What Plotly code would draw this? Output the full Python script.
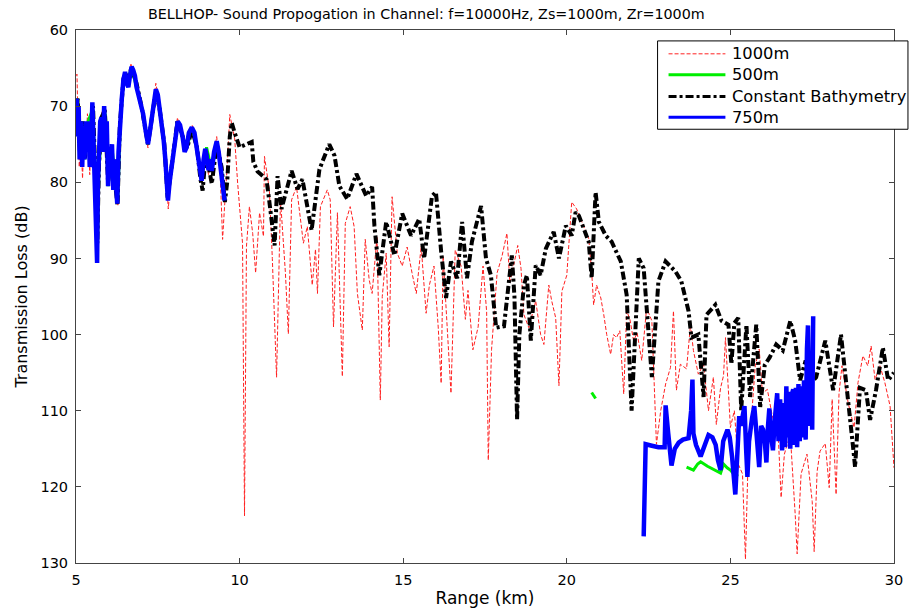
import plotly.graph_objects as go

# ---- Data (Range in km, Transmission loss in dB) ----
red_x = [5.0, 5.03, 5.06, 5.1, 5.15, 5.2, 5.25, 5.3, 5.35, 5.42, 5.5, 5.58, 5.64, 5.7, 5.78, 5.86, 5.95, 6.05, 6.12, 6.2,
         6.28, 6.35, 6.45, 6.55, 6.68, 6.8, 6.9, 7.05, 7.2, 7.32, 7.44, 7.56, 7.72, 7.82, 7.93, 8.1, 8.26, 8.4, 8.55, 8.7,
         8.85, 8.95, 9.05, 9.15, 9.3, 9.4, 9.48, 9.54, 9.62, 9.7, 9.85, 9.94, 10.09, 10.15, 10.21, 10.3, 10.4, 10.49, 10.61, 10.73,
         10.76, 10.91, 11.0, 11.13, 11.25, 11.4, 11.49, 11.59, 11.74, 11.95, 12.07, 12.22, 12.32, 12.38, 12.47, 12.68, 12.77, 12.87, 12.99, 13.14,
         13.23, 13.38, 13.5, 13.6, 13.75, 13.84, 13.96, 14.05, 14.2, 14.3, 14.36, 14.48, 14.57, 14.66, 14.82, 14.97, 15.12, 15.27, 15.4, 15.55,
         15.7, 15.8, 15.94, 16.07, 16.16, 16.22, 16.37, 16.46, 16.59, 16.77, 16.9, 16.98, 17.13, 17.29, 17.44, 17.55, 17.6, 17.7, 17.87, 18.02,
         18.17, 18.26, 18.41, 18.5, 18.6, 18.69, 18.84, 19.05, 19.2, 19.3, 19.45, 19.54, 19.66, 19.76, 19.85, 20.0, 20.15, 20.3, 20.46, 20.67,
         20.76, 20.82, 20.91, 21.04, 21.13, 21.22, 21.34, 21.43, 21.52, 21.62, 21.74, 21.83, 21.93, 22.04, 22.15, 22.29, 22.44, 22.6, 22.74, 22.87,
         23.02, 23.17, 23.26, 23.35, 23.47, 23.66, 23.78, 23.87, 24.02, 24.18, 24.33, 24.48, 24.57, 24.7, 24.79, 24.85, 25.0, 25.12, 25.24, 25.37,
         25.46, 25.55, 25.67, 25.76, 25.88, 25.98, 26.13, 26.28, 26.46, 26.55, 26.65, 26.83, 26.98, 27.04, 27.16, 27.34, 27.5, 27.56, 27.65, 27.74,
         27.9, 28.02, 28.11, 28.23, 28.32, 28.41, 28.6, 28.78, 28.9, 29.05, 29.2, 29.3, 29.42, 29.57, 29.72, 29.88, 30.0]
red_y = [66.0, 65.8, 72.0, 78.0, 74.0, 79.5, 73.0, 76.0, 71.0, 79.0, 70.0, 79.0, 89.0, 78.0, 71.0, 70.0, 80.0, 76.0, 81.0, 77.0,
         83.0, 72.0, 66.0, 67.0, 64.5, 66.5, 68.0, 71.0, 75.5, 71.0, 67.0, 70.0, 76.0, 83.5, 78.0, 71.5, 74.5, 75.0, 72.5, 75.0,
         80.0, 76.0, 79.0, 78.0, 74.0, 78.0, 87.5, 83.2, 78.0, 71.1, 74.3, 80.1, 88.0, 123.8, 88.4, 83.2, 86.7, 91.9, 84.0, 87.1,
         76.6, 81.0, 90.0, 105.6, 82.3, 91.9, 99.9, 82.3, 80.6, 88.0, 85.8, 93.5, 88.8, 94.6, 83.2, 81.0, 82.3, 99.0, 84.0, 105.5,
         85.4, 83.2, 85.8, 94.6, 99.4, 87.5, 92.8, 94.6, 87.1, 108.6, 95.0, 89.3, 101.6, 81.9, 89.3, 91.0, 88.5, 91.9, 94.6, 88.4,
         97.2, 93.5, 91.0, 99.0, 106.4, 89.7, 102.0, 107.7, 88.9, 91.0, 98.0, 94.2, 102.0, 99.0, 91.0, 97.0, 116.5, 102.0, 91.9, 89.7,
         86.7, 93.2, 90.2, 88.3, 91.3, 97.4, 99.1, 95.6, 100.0, 101.3, 93.5, 95.6, 97.8, 106.7, 94.3, 92.2, 82.6, 83.5, 85.2, 87.4,
         91.7, 96.1, 93.5, 95.2, 97.4, 100.0, 102.6, 100.0, 100.4, 99.5, 107.8, 96.9, 98.0, 100.8, 99.8, 103.4, 96.5, 98.2, 114.4, 110.0,
         106.5, 104.3, 96.9, 107.3, 103.9, 104.5, 98.7, 102.1, 105.2, 103.9, 110.0, 105.6, 111.8, 107.0, 105.4, 100.4, 112.2, 110.0, 117.0, 118.3,
         129.5, 115.0, 109.4, 104.1, 101.9, 107.7, 107.2, 110.7, 113.1, 121.4, 115.7, 113.1, 123.6, 128.8, 118.3, 115.7, 121.9, 128.5, 118.0, 115.3,
         114.3, 120.1, 108.5, 121.0, 107.7, 104.1, 109.0, 112.2, 106.3, 102.8, 104.1, 101.5, 105.9, 104.1, 106.3, 109.4, 117.5]

green_x = [5.0, 5.05, 5.12, 5.2, 5.27, 5.37, 5.5, 5.6, 5.65, 5.7, 5.8, 5.9, 5.98, 6.1, 6.2, 6.28, 6.35, 6.45, 6.55, 6.7,
           6.85, 7.0, 7.2, 7.32, 7.44, 7.56, 7.7, 7.8, 7.93, 8.1, 8.26, 8.4, 8.54, 8.7, 8.84, 8.99, 9.15, 9.3, 9.45, 9.54,
           None, 20.76, 20.88,
           None, 23.66, 23.75, 23.87, 24.0, 24.09, 24.3, 24.5, 24.7, 24.79, 24.9, 25.0, 25.12, 25.24]
green_y = [73.5, 69.0, 76.5, 72.5, 77.0, 72.0, 70.5, 79.0, 90.0, 78.5, 71.5, 71.0, 80.5, 75.5, 79.5, 82.5, 72.4, 66.5, 66.8, 65.0,
           67.5, 70.0, 75.0, 71.5, 67.8, 70.2, 75.2, 82.2, 77.6, 72.0, 74.1, 75.4, 72.8, 75.4, 79.8, 75.4, 78.5, 74.6, 78.5, 82.2,
           None, 107.6, 108.4,
           None, 117.4, 117.6, 117.8, 117.0, 116.7, 117.3, 117.8, 118.2, 117.0, 117.5, 117.8, 118.4, 118.6]

black_x = [5.0, 5.05, 5.12, 5.2, 5.27, 5.37, 5.47, 5.52, 5.6, 5.65, 5.7, 5.78, 5.88, 5.98, 6.08, 6.18, 6.27, 6.34, 6.45, 6.55,
           6.7, 6.85, 7.0, 7.2, 7.32, 7.44, 7.56, 7.7, 7.8, 7.93, 8.1, 8.26, 8.4, 8.54, 8.7, 8.8, 8.87, 8.97, 9.1, 9.15,
           9.3, 9.45, 9.55, 9.62, 9.7, 9.76, 9.85, 10.0, 10.37, 10.42, 10.55, 10.82, 10.9, 11.07, 11.16, 11.28, 11.59, 11.77, 11.92, 12.13,
           12.2, 12.44, 12.74, 12.9, 13.05, 13.29, 13.57, 13.87, 14.05, 14.12, 14.27, 14.48, 14.73, 14.97, 15.24, 15.49, 15.64, 15.88, 16.0, 16.16,
           16.31, 16.46, 16.65, 16.8, 16.95, 17.1, 17.38, 17.53, 17.68, 17.84, 18.08, 18.32, 18.4, 18.48, 18.55, 18.69, 18.78, 18.9, 19.05, 19.2,
           19.36, 19.6, 19.76, 19.97, 20.15, 20.27, 20.37, 20.67, 20.76, 20.88, 20.98, 21.19, 21.37, 21.65, 21.83, 21.98, 22.1, 22.2, 22.35, 22.44,
           22.6, 22.8, 23.02, 23.32, 23.5, 23.72, 23.81, 24.02, 24.18, 24.27, 24.54, 24.73, 24.94, 25.03, 25.12, 25.24, 25.33, 25.49, 25.6, 25.79,
           25.91, 26.05, 26.2, 26.4, 26.6, 26.83, 26.98, 27.13, 27.3, 27.45, 27.62, 27.9, 28.14, 28.38, 28.6, 28.75, 28.81, 28.96, 29.14, 29.27,
           29.45, 29.66, 29.82, 30.0]
black_y = [72.0, 69.0, 76.0, 72.0, 77.0, 72.5, 77.0, 70.0, 80.0, 88.0, 78.0, 71.5, 70.5, 80.0, 76.0, 79.5, 83.0, 72.5, 66.5, 66.5,
           65.0, 67.0, 70.0, 75.0, 71.5, 68.0, 70.5, 75.0, 82.0, 77.5, 72.0, 74.0, 75.5, 73.0, 75.5, 79.5, 81.1, 76.0, 79.5, 80.2,
           75.0, 78.0, 82.6, 80.0, 74.0, 72.2, 73.5, 75.4, 74.7, 77.3, 78.6, 79.6, 82.2, 88.3, 79.2, 83.5, 78.5, 80.9, 79.6, 84.4,
           86.3, 78.3, 75.0, 76.5, 80.5, 82.2, 78.9, 81.8, 80.6, 85.7, 92.2, 85.2, 89.6, 84.1, 87.0, 84.8, 90.0, 81.8, 81.3, 89.1,
           95.2, 90.4, 92.6, 85.2, 92.6, 87.8, 83.1, 90.0, 92.2, 99.1, 98.9, 89.6, 95.0, 111.2, 100.0, 93.5, 92.2, 100.8, 90.9, 92.2,
           88.7, 86.5, 90.0, 85.7, 87.0, 83.9, 84.4, 87.8, 92.6, 81.3, 85.2, 87.0, 87.8, 90.4, 94.8, 110.0, 97.8, 90.0, 91.3, 96.5,
           105.6, 93.0, 90.4, 91.7, 93.0, 96.9, 100.4, 100.0, 108.2, 97.4, 96.1, 98.2, 98.7, 103.9, 98.5, 97.8, 110.0, 98.7, 108.2, 98.7,
           109.5, 104.0, 103.0, 101.3, 102.1, 98.2, 100.8, 106.0, 103.4, 106.5, 105.6, 100.8, 107.3, 100.0, 108.2, 114.8, 117.4, 107.0, 107.3, 111.2,
           107.3, 101.7, 106.0, 105.0]

blue_x = [5.0, 5.02, 5.05, 5.08, 5.11, 5.15, 5.19, 5.22, 5.26, 5.3, 5.34, 5.38, 5.42, 5.46, 5.5, 5.54, 5.58, 5.62, 5.645, 5.67,
          5.7, 5.74, 5.78, 5.82, 5.86, 5.9, 5.94, 5.98, 6.02, 6.06, 6.1, 6.14, 6.18, 6.22, 6.26, 6.3, 6.34, 6.4, 6.45, 6.5,
          6.55, 6.6, 6.65, 6.7, 6.75, 6.8, 6.85, 6.9, 7.0, 7.05, 7.12, 7.2, 7.27, 7.32, 7.38, 7.44, 7.5, 7.56, 7.62, 7.68,
          7.73, 7.78, 7.81, 7.86, 7.93, 8.0, 8.06, 8.11, 8.18, 8.26, 8.32, 8.38, 8.45, 8.54, 8.62, 8.69, 8.76, 8.84, 8.9, 8.95,
          8.99, 9.05, 9.1, 9.15, 9.22, 9.3, 9.36, 9.42, 9.48, 9.54,
          None,
          22.35, 22.37, 22.41, 22.6, 22.8, 22.99, 23.02, 23.1, 23.2, 23.3, 23.42, 23.55, 23.72, 23.8, 23.84, 23.87, 23.95, 24.09, 24.2, 24.33,
          24.45, 24.55, 24.62, 24.7, 24.78, 24.91, 24.98, 25.05, 25.15, 25.22, 25.27, 25.32, 25.38, 25.43, 25.48, 25.52, 25.57, 25.61, 25.66, 25.73,
          25.8, 25.88, 25.94, 26.0, 26.05, 26.1, 26.15, 26.19, 26.25, 26.3, 26.36, 26.43, 26.47, 26.52, 26.58, 26.63, 26.67, 26.71, 26.75, 26.79,
          26.83, 26.87, 26.92, 26.96, 27.0, 27.04, 27.08, 27.12, 27.16, 27.2, 27.25, 27.3, 27.34, 27.37, 27.42, 27.46, 27.5, 27.53]
blue_y = [74.0, 69.0, 73.0, 70.0, 77.0, 72.0, 78.0, 73.0, 77.0, 72.0, 76.0, 72.0, 78.0, 76.0, 69.5, 75.0, 78.0, 88.0, 90.6, 80.0,
          76.0, 72.0, 71.5, 76.0, 70.0, 75.0, 72.0, 80.5, 76.0, 78.0, 75.0, 81.0, 77.0, 80.0, 82.8, 76.0, 72.4, 69.0, 66.5, 65.5,
          67.0, 67.5, 66.0, 64.8, 65.3, 66.0, 67.5, 68.3, 70.0, 71.0, 73.0, 75.0, 73.0, 71.5, 69.0, 67.8, 68.5, 70.2, 72.5, 74.5,
          77.0, 80.5, 82.4, 80.0, 77.6, 75.0, 73.0, 72.0, 72.5, 74.1, 76.0, 75.4, 73.5, 72.8, 73.5, 75.4, 77.5, 79.8, 77.0, 75.6,
          76.5, 78.4, 77.0, 78.5, 76.0, 74.6, 76.0, 78.0, 80.0, 82.4,
          None,
          126.5, 123.0, 114.4, 114.6, 114.8, 114.8, 109.3, 113.0, 117.2, 115.0, 114.2, 113.8, 113.6, 110.0, 105.9, 113.0, 114.5, 116.0, 114.5, 113.2,
          113.5, 114.5, 116.5, 117.8, 114.0, 112.5, 113.5, 116.0, 121.0, 115.0, 110.7, 112.0, 110.5, 109.4, 115.0, 118.7, 114.0, 112.0, 111.0, 109.4,
          114.0, 117.4, 112.0, 112.5, 114.0, 116.8, 112.0, 109.7, 113.5, 115.2, 111.0, 107.7, 114.0, 108.5, 115.2, 109.0, 114.8, 106.8, 113.5, 107.5,
          115.0, 108.0, 107.2, 114.5, 107.0, 114.8, 106.5, 114.0, 106.8, 113.5, 106.0, 113.8, 101.9, 98.8, 112.0, 104.0, 112.5, 97.6]

x_ticks = [5, 10, 15, 20, 25, 30]
y_ticks = [60, 70, 80, 90, 100, 110, 120, 130]

series_names = ["1000m", "500m", "Constant Bathymetry", "750m"]
series_colors = ["#ff2020", "#00ee00", "#000000", "#0000ff"]
series_widths = [1, 3, 4, 4.5]
series_dash = ["4px,2px", "solid", "8px,3px,3px,3px", "solid"]

title_text = "BELLHOP- Sound Propogation in Channel: f=10000Hz, Zs=1000m, Zr=1000m"
FONT = "DejaVu Sans, Verdana, sans-serif"

fig = go.Figure()
for xs, ys, nm, col, wd, ds in zip([red_x, green_x, black_x, blue_x], [red_y, green_y, black_y, blue_y],
                                   series_names, series_colors, series_widths, series_dash):
    fig.add_trace(go.Scatter(x=xs, y=ys, mode="lines", name=nm,
                             line=dict(color=col, width=wd, dash=ds)))

# ---- Legend drawn as box + samples (MATLAB style: long line samples) ----
L, W, T, H = 76, 820, 30, 537
def px_x(p):
    return (p - L) / W
def px_y(p):
    return (T + H - p) / H

shapes = [dict(type="rect", xref="paper", yref="paper", x0=px_x(659), x1=px_x(910), y0=px_y(130), y1=px_y(41),
               line=dict(color="black", width=1), fillcolor="white", layer="above")]
annotations = []
legend_rows = [54, 75, 97, 118]
sample_w = [1, 3, 3, 3]
for i, (nm, col, ds, row) in enumerate(zip(series_names, series_colors, series_dash, legend_rows)):
    shapes.append(dict(type="line", xref="paper", yref="paper", x0=px_x(670), x1=px_x(727),
                       y0=px_y(row), y1=px_y(row), layer="above",
                       line=dict(color=col, width=sample_w[i], dash=ds)))
    annotations.append(dict(xref="paper", yref="paper", x=px_x(732), y=px_y(row), text=nm, showarrow=False,
                            xanchor="left", yanchor="middle", font=dict(family=FONT, size=16.3, color="black")))

axis_common = dict(showgrid=False, zeroline=False, showline=True, linecolor="#444444", linewidth=1,
                   mirror="ticks", ticks="inside", ticklen=5, tickcolor="#444444",
                   tickfont=dict(family=FONT, size=14.5, color="black"))

fig.update_layout(
    width=915, height=616,
    margin=dict(l=L, r=915 - L - W, t=T, b=616 - T - H),
    paper_bgcolor="white", plot_bgcolor="white",
    font=dict(family=FONT, size=14, color="black"),
    title=dict(text=title_text, x=0.466, xref="container", xanchor="center", y=1 - 14 / 616, yanchor="middle",
               yref="container", font=dict(family=FONT, size=14.3)),
    xaxis=dict(range=[5, 30], tickvals=x_ticks, ticklabelstandoff=4,
               title=dict(text="Range (km)", standoff=4, font=dict(family=FONT, size=17)),
               **axis_common),
    yaxis=dict(range=[130, 60], tickvals=y_ticks, ticklabelstandoff=4,
               title=dict(text="Transmission Loss (dB)", standoff=8, font=dict(family=FONT, size=16)),
               **axis_common),
    showlegend=False,
    shapes=shapes,
    annotations=annotations,
)

fig.write_html("out.html", config={"displayModeBar": False},
               post_script="document.body.style.margin='0px';")
